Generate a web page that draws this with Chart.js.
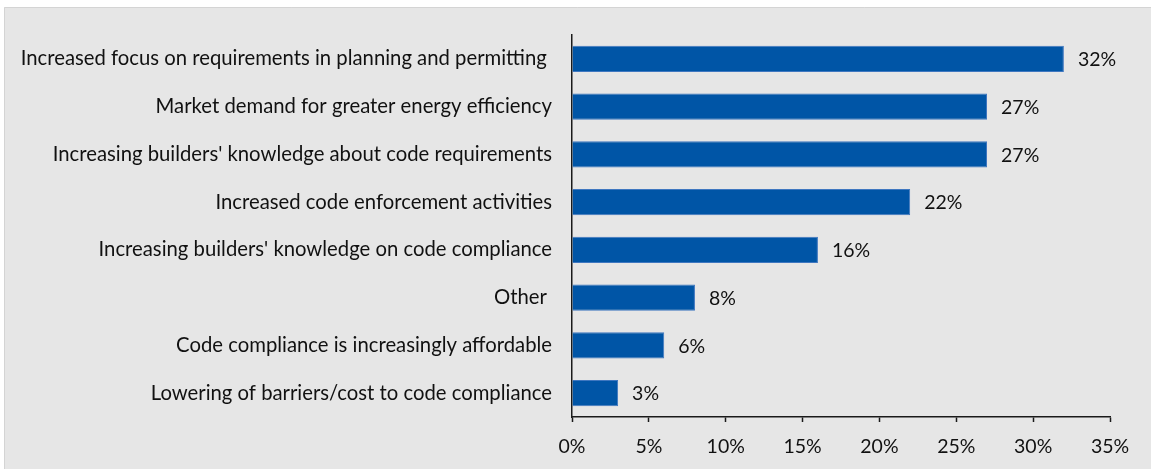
<!DOCTYPE html>
<html>
<head>
<meta charset="utf-8">
<script src="https://cdn.jsdelivr.net/npm/chart.js@4"></script>
<style>
  html, body { margin: 0; padding: 0; background: #ffffff; }
  #wrap { width: 1151px; height: 469px; }
</style>
</head>
<body>
<div id="wrap"><canvas id="chartJS" width="1151" height="469"></canvas></div>
<script>
const labels = [
    'Increased focus on requirements in planning and permitting ',
    'Market demand for greater energy efficiency',
    "Increasing builders' knowledge about code requirements",
    'Increased code enforcement activities',
    "Increasing builders' knowledge on code compliance",
    'Other ',
    'Code compliance is increasingly affordable',
    'Lowering of barriers/cost to code compliance'
];

const values = [32, 27, 27, 22, 16, 8, 6, 3];

const xTicks = [0, 5, 10, 15, 20, 25, 30, 35];

const FONT = 'Lato, "Open Sans", sans-serif';

// gray panel behind everything
const panel = {
    id: 'panel',
    beforeDraw(chart) {
        const ctx = chart.ctx;
        ctx.save();
        ctx.fillStyle = '#e6e6e6';
        ctx.fillRect(4, 7, chart.width - 4, chart.height - 7);
        ctx.strokeStyle = '#d4d4d4';
        ctx.lineWidth = 1;
        ctx.beginPath();
        ctx.moveTo(4.5, chart.height);
        ctx.lineTo(4.5, 7.5);
        ctx.lineTo(chart.width, 7.5);
        ctx.stroke();
        ctx.restore();
    }
};

// value text at the end of each bar
const valueLabels = {
    id: 'valueLabels',
    afterDatasetsDraw(chart) {
        const ctx = chart.ctx;
        const meta = chart.getDatasetMeta(0);
        ctx.save();
        ctx.fillStyle = '#111111';
        ctx.font = '19.5px ' + FONT;
        ctx.textAlign = 'left';
        ctx.textBaseline = 'middle';
        meta.data.forEach((bar, i) => {
            ctx.fillText(values[i] + '%', bar.x + 14, bar.y + 1);
        });
        ctx.restore();
    }
};

const data = {
    labels: labels,
    datasets: [{
        data: values,
        backgroundColor: '#0055a6',
        borderColor: '#3f77c0',
        borderWidth: 1,
        categoryPercentage: 1,
        barPercentage: 0.545
    }]
};

const config = {
    type: 'bar',
    data: data,
    plugins: [panel, valueLabels],
    options: {
        indexAxis: 'y',
        responsive: false,
        animation: false,
        layout: {
            padding: { top: 35, right: 41, left: 0, bottom: 0 }
        },
        plugins: {
            legend: { display: false },
            tooltip: { enabled: false }
        },
        scales: {
            x: {
                min: 0,
                max: 35,
                afterFit(scale) { scale.height = 52; },
                afterBuildTicks(scale) {
                    scale.ticks = xTicks.map(v => ({ value: v }));
                },
                grid: {
                    drawOnChartArea: false,
                    drawTicks: true,
                    tickLength: 5,
                    tickColor: '#1a1a1a',
                    tickWidth: 1.5
                },
                border: { display: true, color: '#1a1a1a', width: 1.5 },
                ticks: {
                    color: '#111111',
                    font: { family: FONT, size: 19.5 },
                    padding: 13,
                    maxRotation: 0,
                    callback: v => v + '%'
                }
            },
            y: {
                afterFit(scale) { scale.width = 572; },
                grid: { display: false, drawTicks: false },
                border: { display: true, color: '#1a1a1a', width: 1.5 },
                ticks: {
                    color: '#111111',
                    font: { family: FONT, size: 20.3 },
                    padding: 20,
                    autoSkip: false
                }
            }
        }
    }
};

const myChart = new Chart(
    document.getElementById('chartJS'),
    config
);
</script>
</body>
</html>
